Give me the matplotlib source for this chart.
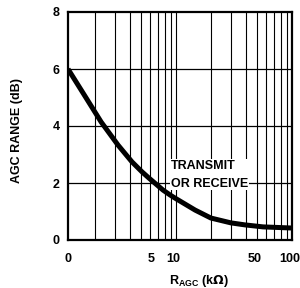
import matplotlib
matplotlib.use("Agg")
import matplotlib.pyplot as plt
from matplotlib.ticker import FixedLocator, NullFormatter

# AGC range vs R_AGC
r_left = 1.17  # left edge of the axis, labelled "0"
r_kohm = [r_left, 1.61, 2.26, 3.16, 4.17, 5.09, 5.85, 6.86, 7.73, 8.88, 9.8,
          14.6, 20, 29.8, 39.3, 56.3, 100]
agc_db = [6.0, 5.1, 4.14, 3.33, 2.74, 2.39, 2.17, 1.93, 1.75, 1.58, 1.47,
          1.05, 0.77, 0.60, 0.53, 0.46, 0.42]

grid_r = [2, 3, 4, 5, 6, 7, 8, 9, 10, 20, 30, 40, 50, 60, 70, 80, 90]
grid_db = [2, 4, 6]
# the "5" label sits on the sixth line in the original drawing
xtick_pos = [r_left, 6.1, 9.5, 48, 96]
xtick_lab = ['0', '5', '10', '50', '100']
ytick_pos = [0, 2, 4, 6, 8]

plt.rcParams['font.family'] = ['Liberation Sans', 'DejaVu Sans']
plt.rcParams['font.weight'] = 'bold'

fig = plt.figure(figsize=(3.0, 2.88), dpi=100)
ax = fig.add_axes([68 / 300, 1 - 240 / 288, 224 / 300, 228 / 288])

ax.set_xscale('log')
ax.set_xlim(r_left, 100)
ax.set_ylim(0, 8)

for g in grid_r:
    ax.axvline(g, color='black', lw=0.8, zorder=1)
for g in grid_db:
    ax.axhline(g, color='black', lw=0.9, zorder=1)

ax.plot(r_kohm, agc_db, color='black', lw=3.6, solid_capstyle='butt',
        solid_joinstyle='round', zorder=3)

ax.text(9.1, 2.8, 'TRANSMIT\nOR RECEIVE', ha='left', va='top', fontsize=9,
        fontweight='bold', linespacing=1.6, zorder=4,
        bbox=dict(facecolor='white', edgecolor='none', pad=0.6))

ax.xaxis.set_major_locator(FixedLocator(xtick_pos))
ax.xaxis.set_minor_locator(FixedLocator([]))
ax.xaxis.set_minor_formatter(NullFormatter())
ax.set_xticklabels(xtick_lab)
ax.set_yticks(ytick_pos)
ax.tick_params(axis='both', length=0, labelsize=9)
ax.tick_params(axis='x', pad=9)
ax.tick_params(axis='y', pad=6)

ax.set_ylabel('AGC RANGE (dB)', fontsize=9, fontweight='bold')
ax.yaxis.set_label_coords(-0.2, 0.48)
ax.set_xlabel(r'R$\mathregular{_{AGC}}$ (k$\Omega$)', fontsize=9, fontweight='bold')
ax.xaxis.set_label_coords(0.585, -0.145)

for s in ax.spines.values():
    s.set_linewidth(1.6)
    s.set_zorder(5)

fig.savefig('out.png', dpi=100)
